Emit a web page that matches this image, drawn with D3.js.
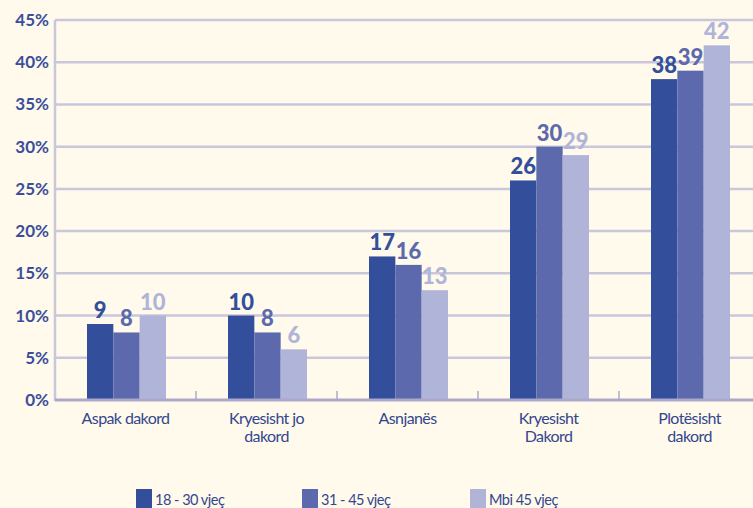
<!DOCTYPE html>
<html>
<head>
<meta charset="utf-8">
<style>
  body { margin: 0; background: #fffaeb; }
  svg { display: block; font-family: Lato, "Open Sans", sans-serif; }
</style>
</head>
<body>
<svg width="753" height="508"></svg>
<script src="https://d3js.org/d3.v7.min.js"></script>
<script>
  var categories = ["Aspak dakord", "Kryesisht jo\ndakord", "Asnjanës", "Kryesisht\nDakord", "Plotësisht\ndakord"];
  var seriesNames = ["18 - 30 vjeç", "31 - 45 vjeç", "Mbi 45 vjeç"];
  var young = [9, 10, 17, 26, 38];
  var middle = [8, 8, 16, 30, 39];
  var older = [10, 6, 13, 29, 42];
  var yTicks = [0, 5, 10, 15, 20, 25, 30, 35, 40, 45];
  var colors = ["#334f9b", "#5c6aad", "#b0b4d9"];

  var series = [young, middle, older];

  var svg = d3.select("svg");
  var plotLeft = 55, plotTop = 20, plotBottom = 400;

  var x = d3.scaleBand().domain(categories).range([plotLeft, 760]);
  var xs = d3.scaleBand().domain(d3.range(3)).range([32, 32 + 79]);
  var y = d3.scaleLinear().domain([0, 45]).range([plotBottom, plotTop]);

  // gridlines
  svg.append("g").selectAll("line").data(yTicks.slice(1)).join("line")
    .attr("x1", plotLeft).attr("x2", 753)
    .attr("y1", d => y(d)).attr("y2", d => y(d))
    .attr("stroke", "#cac6dc").attr("stroke-width", 2.5);

  // y axis labels
  svg.append("g").selectAll("text").data(yTicks).join("text")
    .attr("x", 49).attr("y", d => y(d) + 6)
    .attr("text-anchor", "end")
    .attr("fill", "#3a4f9b").attr("font-weight", "bold").attr("font-size", 17)
    .text(d => d + "%");

  // bars
  series.forEach(function (vals, s) {
    var g = svg.append("g");
    g.selectAll("rect").data(vals).join("rect")
      .attr("x", (d, i) => x(categories[i]) + xs(s))
      .attr("width", xs.bandwidth())
      .attr("y", d => y(d))
      .attr("height", d => y(0) - y(d))
      .attr("fill", colors[s]);
    g.selectAll("text").data(vals).join("text")
      .attr("x", (d, i) => x(categories[i]) + xs(s) + xs.bandwidth() / 2)
      .attr("y", d => y(d) - 6)
      .attr("text-anchor", "middle")
      .attr("fill", colors[s]).attr("font-weight", "900").attr("font-size", 22)
      .text(d => d);
  });

  // axes lines
  svg.append("line").attr("x1", plotLeft).attr("x2", plotLeft).attr("y1", plotTop).attr("y2", plotBottom + 1)
    .attr("stroke", "#cac6dc").attr("stroke-width", 2.5);
  svg.append("line").attr("x1", plotLeft).attr("x2", 753).attr("y1", plotBottom).attr("y2", plotBottom)
    .attr("stroke", "#aca8cc").attr("stroke-width", 3);
  svg.append("g").selectAll("line").data(categories.slice(1)).join("line")
    .attr("x1", d => x(d)).attr("x2", d => x(d))
    .attr("y1", plotBottom - 9).attr("y2", plotBottom)
    .attr("stroke", "#aca8cc").attr("stroke-width", 1.5);

  // category labels, one text per line
  var catG = svg.append("g").selectAll("g").data(categories).join("g");
  catG.selectAll("text").data(d => d.split("\n").map(line => ({ cat: d, line: line }))).join("text")
    .attr("x", d => x(d.cat) + x.bandwidth() / 2)
    .attr("y", (d, i) => 424 + i * 18)
    .attr("text-anchor", "middle")
    .attr("fill", "#33478f").attr("font-size", 16).attr("letter-spacing", -0.6)
    .text(d => d.line);

  // legend
  var legendX = [136, 302, 470];
  var lg = svg.append("g").selectAll("g").data(seriesNames).join("g")
    .attr("transform", (d, i) => "translate(" + legendX[i] + ",489)");
  lg.append("rect").attr("width", 16).attr("height", 20).attr("fill", (d, i) => colors[i]);
  lg.append("text").attr("x", 19).attr("y", 16)
    .attr("fill", "#33478f").attr("font-size", 14.5).attr("letter-spacing", -0.5)
    .text(d => d);
</script>
</body>
</html>
